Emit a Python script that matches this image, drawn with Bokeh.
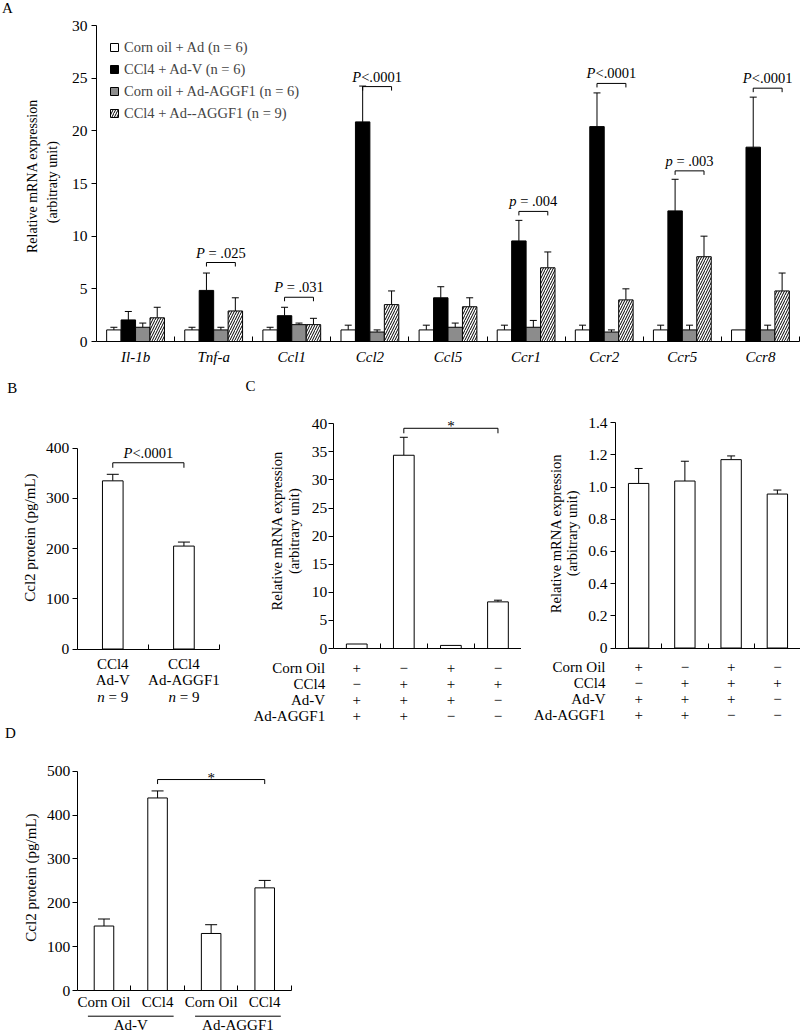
import numpy as np
from bokeh.plotting import figure
from bokeh.layouts import column, row
from bokeh.models import (ColumnDataSource, Range1d, FixedTicker, Whisker,
                          TeeHead, Label, Legend, LegendItem, Arrow)
from bokeh.embed import file_html
from bokeh.resources import INLINE

# ---------------- Panel A data ----------------
genes = ["Il-1b", "Tnf-a", "Ccl1", "Ccl2", "Ccl5", "Ccr1", "Ccr2", "Ccr5", "Ccr8"]
series_names = ["Corn oil + Ad (n = 6)", "CCl4 + Ad-V (n = 6)",
                "Corn oil + Ad-AGGF1 (n = 6)", "CCl4 + Ad--AGGF1 (n = 9)"]
cornoil_ad = [1.1, 1.1, 1.1, 1.1, 1.1, 1.1, 1.1, 1.1, 1.1]
cornoil_ad_err = [1.35, 1.35, 1.35, 1.55, 1.55, 1.55, 1.55, 1.55, 1.1]
ccl4_adv = [2.05, 4.85, 2.45, 20.85, 4.15, 9.55, 20.4, 12.4, 18.45]
ccl4_adv_err = [2.85, 6.5, 3.25, 24.25, 5.2, 11.5, 23.6, 15.4, 23.2]
cornoil_aggf1 = [1.35, 1.1, 1.6, 0.9, 1.35, 1.35, 0.9, 1.1, 1.1]
cornoil_aggf1_err = [1.75, 1.35, 1.75, 1.1, 1.75, 2.0, 1.1, 1.55, 1.55]
ccl4_aggf1 = [2.25, 2.9, 1.6, 3.5, 3.3, 7.0, 3.95, 8.05, 4.8]
ccl4_aggf1_err = [3.25, 4.15, 2.2, 4.8, 4.15, 8.5, 5.0, 10.0, 6.5]
cmp_genes = ["Tnf-a", "Ccl1", "Ccl2", "Ccr1", "Ccr2", "Ccr5", "Ccr8"]
cmp_level = [7.5, 4.2, 24.2, 12.35, 24.5, 16.2, 24.05]
cmp_letter = ["P", "P", "P", "p", "P", "p", "P"]
cmp_rest = [" = .025", " = .031", "<.0001", " = .004", "<.0001", " = .003", "<.0001"]

# ---------------- Panel B data ----------------
b_line1 = ["CCl4", "CCl4"]
b_line2 = ["Ad-V", "Ad-AGGF1"]
b_n = ["9", "9"]
b_values = [335, 205]
b_err = [348, 213]
b_cmp_level = 371
b_cmp = ("P", "<.0001")

# ---------------- Panel C data ----------------
c_rows = ["Corn Oil", "CCl4", "Ad-V", "Ad-AGGF1"]
c_signs = [["+", "\u2212", "+", "\u2212"],
           ["\u2212", "+", "+", "+"],
           ["+", "+", "+", "\u2212"],
           ["+", "+", "\u2212", "\u2212"]]
c1_values = [0.8, 34.4, 0.55, 8.3]
c1_err = [None, 37.6, None, 8.6]
c1_cmp_level = 39.2
c2_values = [1.023, 1.038, 1.171, 0.957]
c2_err = [1.116, 1.161, 1.194, 0.982]
c2_ticks = [0, 0.2, 0.4, 0.6, 0.8, 1.0, 1.2, 1.4]
c2_tick_labels = ["0", "0.2", "0.4", "0.6", "0.8", "1.0", "1.2", "1.4"]

# ---------------- Panel D data ----------------
d_labels = ["Corn Oil", "CCl4", "Corn Oil", "CCl4"]
d_groups = ["Ad-V", "Ad-AGGF1"]
d_values = [147, 439, 130, 234]
d_err = [163, 455, 150, 251]
d_cmp_level = 481

FONT = "Liberation Serif"
GRAY = "#8c8c8c"
NB = "\u00a0"
TW = {" ": .25, NB: .25, "=": .564, ".": .25, "<": .564, "*": .5, "P": .611, "p": .5, "n": .5}
SPLIT = 724  # page y where the B/C row ends and panel D starts


def fsz(v):
    return f"{v:.1f}px"


def tw(s, size):
    return sum(TW.get(c, .5) for c in s) * size


def make_panel(canvas, frame, data):
    """canvas / frame in page pixels, data = axis extents; frame covers whole canvas,
    axes are drawn at fixed data locations."""
    X0, X1, Y0, Y1 = canvas
    fx0, fx1, fyt, fyb = frame
    xa, xb, ya, yb = data
    ppx = (fx1 - fx0) / (xb - xa)
    ppy = (fyb - fyt) / (yb - ya)
    xr = (xa - (fx0 - X0) / ppx, xb + (X1 - fx1) / ppx)
    yr = (ya - (Y1 - fyb) / ppy, yb + (fyt - Y0) / ppy)
    p = figure(width=round(X1 - X0), height=round(Y1 - Y0), x_range=Range1d(*xr),
               y_range=Range1d(*yr), min_border=0, min_border_left=0, min_border_right=0,
               min_border_top=0, min_border_bottom=0, output_backend="svg",
               toolbar_location=None)
    p.outline_line_color = None
    p.xgrid.visible = False
    p.ygrid.visible = False
    p.border_fill_color = "white"
    p.background_fill_color = "white"
    p.xaxis[0].fixed_location = ya
    p.xaxis[0].bounds = (xa, xb)
    p.yaxis[0].fixed_location = xa
    p.yaxis[0].bounds = (ya, yb)
    return p, ppy


def style_axes(p, yticks, xticks, xminor, xlabels=None, ylabels=None,
               ystand=4, xstand=5, xitalic=False, tick_fs=15.5, xlab_fs=15):
    ya = p.yaxis[0]
    ya.ticker = FixedTicker(ticks=yticks)
    if ylabels:
        ya.major_label_overrides = dict(zip(yticks, ylabels))
    ya.major_tick_in = 0
    ya.major_tick_out = 5
    ya.minor_tick_line_color = None
    xa = p.xaxis[0]
    for a in (ya, xa):
        a.axis_line_color = "black"
        a.axis_line_width = 1
        a.major_tick_line_color = "black"
        a.major_label_text_font = FONT
        a.major_label_text_color = "black"
    ya.major_label_text_font_size = fsz(tick_fs)
    ya.major_label_standoff = ystand
    xa.ticker = FixedTicker(ticks=xticks, minor_ticks=xminor)
    xa.major_tick_in = 0
    xa.major_tick_out = 0
    xa.minor_tick_in = 5
    xa.minor_tick_out = 0
    xa.minor_tick_line_color = "black"
    if xlabels:
        xa.major_label_overrides = dict(zip(xticks, xlabels))
    xa.major_label_text_font_size = fsz(xlab_fs)
    xa.major_label_standoff = xstand
    if xitalic:
        xa.major_label_text_font_style = "italic"


def bars(p, xs, vals, errs, width, fill, head, hatch=None):
    src = ColumnDataSource(dict(x=list(xs), top=list(vals)))
    kw = {}
    if hatch:
        kw = dict(hatch_pattern=hatch, hatch_color="black", hatch_scale=5, hatch_weight=1)
    r = p.vbar(x="x", top="top", bottom=0, width=width, source=src, fill_color=fill,
               line_color="black", line_width=1, **kw)
    keep = [(x, v, e) for x, v, e in zip(xs, vals, errs) if e is not None and e > v]
    if keep:
        wsrc = ColumnDataSource(dict(x=[k[0] for k in keep], lo=[k[1] for k in keep],
                                     hi=[k[2] for k in keep]))
        p.add_layout(Whisker(source=wsrc, base="x", lower="lo", upper="hi", dimension="height",
                             line_color="black", line_width=1,
                             upper_head=TeeHead(size=head, line_color="black", line_width=1),
                             lower_head=None))
    return r


def lab(p, x, y, text, dx=0, dy=0, size=15, italic=False, align="center", baseline="middle",
        angle=0):
    p.add_layout(Label(x=x, y=y, x_offset=dx, y_offset=dy, text=text, text_font=FONT,
                       text_font_size=fsz(size), text_font_style="italic" if italic else "normal",
                       text_align=align, text_baseline=baseline, angle=angle, text_color="black"))


def italic_pair(p, x, y, letter, rest, size, dy):
    rest = rest.replace(" ", NB)
    total = tw(letter + rest, size)
    off = -total / 2 + tw(letter, size)
    lab(p, x, y, letter, dx=off, dy=dy, size=size, italic=True, align="right")
    lab(p, x, y, rest, dx=off, dy=dy, size=size, align="left")


def bracket(p, x0, x1, y, drop):
    p.multi_line(xs=[[x0, x0, x1, x1]], ys=[[y - drop, y, y, y - drop]],
                 line_color="black", line_width=1)


# ================= Panel A =================
nA = len(genes)
pA, ppuA = make_panel((0, 800, 0, 372), (96, 799, 25, 341), (0, nA, 0, 30))
centersA = [i + 0.5 for i in range(nA)]
style_axes(pA, list(range(0, 31, 5)), centersA, [i + 1 for i in range(nA)], xlabels=genes,
           xstand=7, xitalic=True, tick_fs=15.5, xlab_fs=15)
bw = 0.185
series = [(cornoil_ad, cornoil_ad_err, "white", None),
          (ccl4_adv, ccl4_adv_err, "black", None),
          (cornoil_aggf1, cornoil_aggf1_err, GRAY, None),
          (ccl4_aggf1, ccl4_aggf1_err, "white", "/")]
items = []
for j, (vals, errs, color, hatch) in enumerate(series):
    xs = [c + (j - 1.5) * bw for c in centersA]
    r = bars(pA, xs, vals, errs, bw, color, 7, hatch)
    items.append(LegendItem(label=series_names[j], renderers=[r]))
leg = Legend(items=items, location=(109, 372 - 37 - 86), border_line_color=None,
             background_fill_alpha=0, padding=0, margin=0, spacing=2,
             label_height=20, glyph_height=10, glyph_width=10,
             label_standoff=5, label_text_font=FONT, label_text_font_size=fsz(14.5))
pA.add_layout(leg)
dropA = 4 / ppuA
for g, lv, le, rest in zip(cmp_genes, cmp_level, cmp_letter, cmp_rest):
    c = centersA[genes.index(g)]
    x0, x1 = c - 0.5 * bw, c + 1.5 * bw
    bracket(pA, x0, x1, lv, dropA)
    italic_pair(pA, (x0 + x1) / 2, lv, le, rest, 14.5, 10)
lab(pA, 0, 30, "A", dx=-89, dy=18, size=15)
lab(pA, 0, 15, "Relative mRNA expression", dx=-64.3, dy=7.5, size=14, angle=np.pi / 2)
lab(pA, 0, 15, "(arbitraty unit)", dx=-44.3, dy=1.3, size=14, angle=np.pi / 2)

# ================= Panel B =================
pB, ppuB = make_panel((0, 240, 372, SPLIT), (76.7, 219, 447.7, 648.5), (0, 2, 0, 400))
style_axes(pB, list(range(0, 401, 100)), [], [1, 2], ystand=3)
xb = [i + 0.5 for i in range(len(b_values))]
bars(pB, xb, b_values, b_err, 0.29, "white", 12)
bracket(pB, xb[0], xb[1], b_cmp_level, 5 / ppuB)
italic_pair(pB, (xb[0] + xb[1]) / 2, b_cmp_level, b_cmp[0], b_cmp[1], 14.5, 10)
for x, l1, l2, n in zip(xb, b_line1, b_line2, b_n):
    lab(pB, x, 0, l1, dy=-14.5, size=15)
    lab(pB, x, 0, l2, dy=-31, size=15)
    italic_pair(pB, x, 0, "n", " = " + n, 15, -47.5)
lab(pB, 0, 400, "B", dx=-65, dy=60.7, size=15)
lab(pB, 0, 200, "Ccl2 protein (pg/mL)", dx=-47.7, dy=11, size=15, angle=np.pi / 2)


# ================= Panel C =================
def table(p, dx_rows):
    nb = len(c_signs[0])
    for k, (name, signs) in enumerate(zip(c_rows, c_signs)):
        dy = [-19.2, -35.2, -51.2, -67.0][k]
        lab(p, 0, 0, name, dx=dx_rows, dy=dy, size=15, align="right")
        for i in range(nb):
            lab(p, i + 0.5, 0, signs[i], dy=dy, size=15)


pC1, ppuC1 = make_panel((240, 521, 372, SPLIT), (332.7, 521, 423.3, 648), (0, 4, 0, 40))
style_axes(pC1, list(range(0, 41, 5)), [], [1, 2, 3, 4], ystand=1)
xc = [i + 0.5 for i in range(4)]
bars(pC1, xc, c1_values, c1_err, 0.44, "white", 8)
bracket(pC1, xc[1], xc[3], c1_cmp_level, 5 / ppuC1)
lab(pC1, (xc[1] + xc[3]) / 2, c1_cmp_level, "*", dy=2, size=15)
table(pC1, -8)
lab(pC1, 0, 40, "C", dx=-82.7, dy=37.6, size=15)
lab(pC1, 0, 20, "Relative mRNA expression", dx=-56, dy=5.5, size=14.5, angle=np.pi / 2)
lab(pC1, 0, 20, "(arbitrary unit)", dx=-39.4, dy=5, size=14.5, angle=np.pi / 2)

pC2, ppuC2 = make_panel((521, 800, 372, SPLIT), (615, 800, 422.3, 647.5), (0, 4, 0, 1.4))
style_axes(pC2, c2_ticks, [], [1, 2, 3, 4], ylabels=c2_tick_labels, ystand=3)
bars(pC2, xc, c2_values, c2_err, 0.44, "white", 8)
table(pC2, -10)
lab(pC2, 0, 0.7, "Relative mRNA expression", dx=-60, dy=2, size=14.5, angle=np.pi / 2)
lab(pC2, 0, 0.7, "(arbitrary unit)", dx=-43.3, dy=2, size=14.5, angle=np.pi / 2)

# ================= Panel D =================
pD, ppuD = make_panel((0, 800, SPLIT, 1034), (76.7, 291, 770.7, 990), (0, 4, 0, 500))
xd = [i + 0.5 for i in range(len(d_values))]
style_axes(pD, list(range(0, 501, 100)), xd, [1, 2, 3, 4], xlabels=d_labels, ystand=2, xstand=3)
bars(pD, xd, d_values, d_err, 0.365, "white", 12)
bracket(pD, xd[1], xd[3], d_cmp_level, 4.5 / ppuD)
lab(pD, (xd[1] + xd[3]) / 2, d_cmp_level, "*", dy=2, size=15)
yline = -25.7 / ppuD
for k, g in enumerate(d_groups):
    gc = 2 * k + 1
    pD.add_layout(Arrow(x_start=gc - 0.8, y_start=yline, x_end=gc + 0.8, y_end=yline,
                        start=None, end=None, line_color="black", line_width=1))
    lab(pD, gc, 0, g, dy=-34, size=15)
lab(pD, 0, 500, "D", dx=-66.7, dy=38, size=15)
lab(pD, 0, 250, "Ccl2 protein (pg/mL)", dx=-46.7, dy=3.3, size=15, angle=np.pi / 2)

layout = column(pA, row(pB, pC1, pC2), pD)
open("out.html", "w").write(file_html(layout, INLINE))
